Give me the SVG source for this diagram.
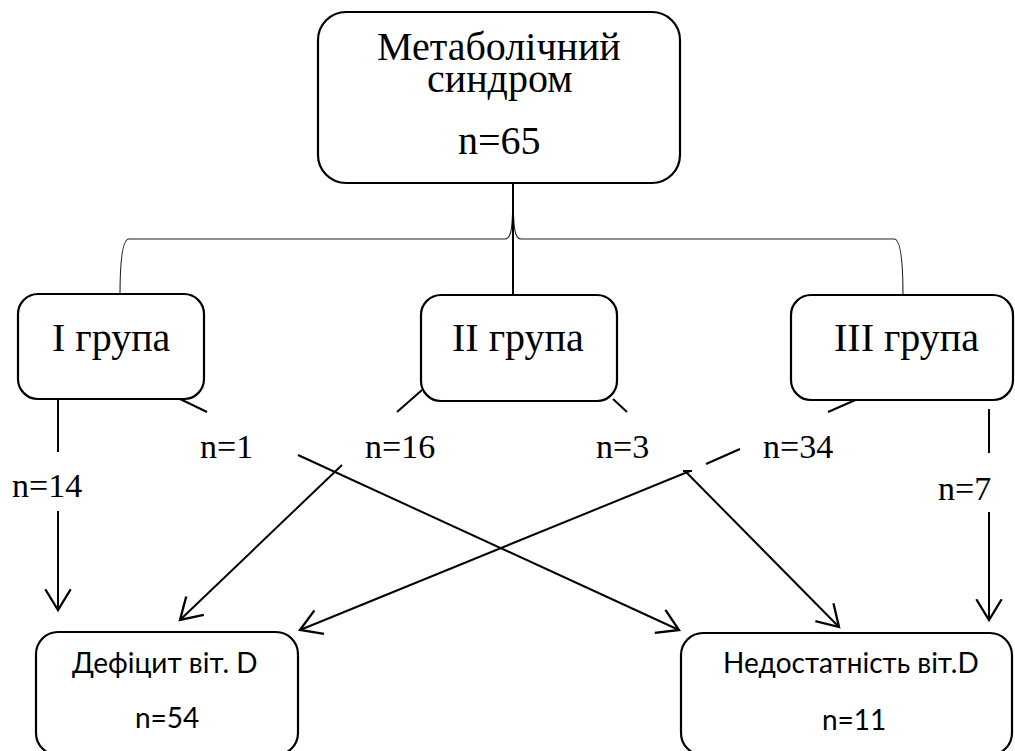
<svg xmlns="http://www.w3.org/2000/svg" width="1015" height="751" viewBox="0 0 1015 751">
<defs>
<marker id="arr" markerUnits="userSpaceOnUse" markerWidth="30" markerHeight="30" viewBox="-20 -13 22 26" refX="0" refY="0" orient="auto">
<path d="M-18,-11 L0,0 L-18,11" fill="none" stroke="#000" stroke-width="2"/>
</marker>
</defs>
<rect width="1015" height="751" fill="#fff"/>
<g id="connectors" fill="none" stroke="#000" stroke-width="2">
<path stroke="#222" stroke-width="1.1" d="M513,185 C513,232 511,239 505,239 L129,239 C123,239 120,258 120,295"/>
<path stroke="#222" stroke-width="1.1" d="M513,185 C513,232 515,239 521,239 L894,239 C900,239 903,258 903,295"/>
<path d="M513,183 L513,295"/>
<path d="M58,399 L58,452"/>
<path d="M58,511 L58,610" marker-end="url(#arr)"/>
<path d="M178,398 L207,412"/>
<path d="M298,455 L679,630" marker-end="url(#arr)"/>
<path d="M422,390 L397,412"/>
<path d="M342,465 L180,620" marker-end="url(#arr)"/>
<path d="M613,399 L627,412"/>
<path d="M686,472 L839,627" marker-end="url(#arr)"/>
<path d="M860,398 L828,412"/>
<path d="M740,449 L706,464"/>
<path d="M683,471 L692,471"/>
<path d="M690,471 L300,630" marker-end="url(#arr)"/>
<path d="M989,409 L989,453"/>
<path d="M989,512 L989,620" marker-end="url(#arr)"/>
</g>
<g id="labels">
<text x="12" y="497" font-family="Liberation Serif" font-size="34">n=14</text>
<text x="200" y="458" font-family="Liberation Serif" font-size="34">n=1</text>
<text x="365" y="458" font-family="Liberation Serif" font-size="34">n=16</text>
<text x="596" y="458" font-family="Liberation Serif" font-size="34">n=3</text>
<text x="763" y="458" font-family="Liberation Serif" font-size="34">n=34</text>
<text x="938" y="500" font-family="Liberation Serif" font-size="34">n=7</text>
</g>
<g id="metabolic">
<rect x="318" y="12" width="362" height="171" rx="28" fill="#fff" stroke="#000" stroke-width="2.2"/>
<text x="377" y="60" font-family="Liberation Serif" font-size="40">Метаболічний</text>
<text x="427" y="92" font-family="Liberation Serif" font-size="40">синдром</text>
<text x="458" y="154" font-family="Liberation Serif" font-size="40">n=65</text>
</g>
<g id="group1">
<rect x="18" y="294" width="186" height="105" rx="20" fill="#fff" stroke="#000" stroke-width="2.2"/>
<text x="52" y="351" font-family="Liberation Serif" font-size="40">I група</text>
</g>
<g id="group2">
<rect x="421" y="295" width="196" height="106" rx="20" fill="#fff" stroke="#000" stroke-width="2.2"/>
<text x="452" y="351" font-family="Liberation Serif" font-size="40">II група</text>
</g>
<g id="group3">
<rect x="791" y="295" width="222" height="105" rx="20" fill="#fff" stroke="#000" stroke-width="2.2"/>
<text x="834" y="351" font-family="Liberation Serif" font-size="40">III група</text>
</g>
<g id="deficit">
<rect x="36" y="632" width="262" height="123" rx="22" fill="#fff" stroke="#000" stroke-width="2.2"/>
<text x="72" y="673" font-family="Lato" font-size="28">Дефіцит віт. D</text>
<text x="135" y="728" font-family="Lato" font-size="28">n=54</text>
</g>
<g id="insufficiency">
<rect x="681" y="633" width="331" height="122" rx="22" fill="#fff" stroke="#000" stroke-width="2.2"/>
<text x="723" y="673" font-family="Lato" font-size="28">Недостатність віт.D</text>
<text x="822" y="730" font-family="Lato" font-size="28">n=11</text>
</g>
</svg>
